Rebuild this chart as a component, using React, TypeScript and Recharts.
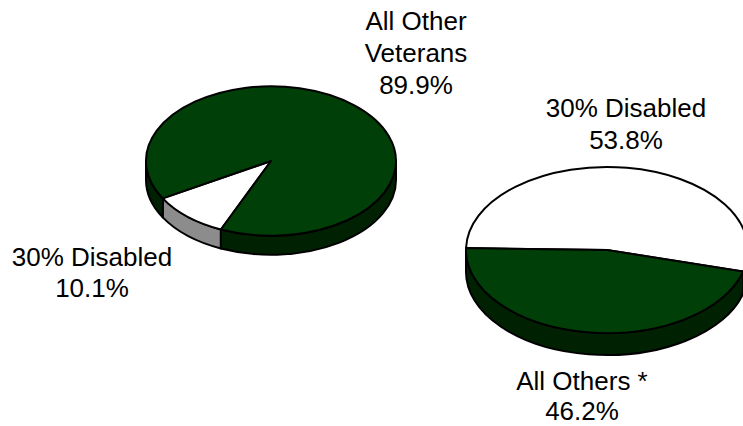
import React from 'react';
import { PieChart, Pie, Cell } from 'recharts';

const leftNames = ['30% Disabled', 'All Other Veterans'];
const leftValues = [10.1, 89.9];
const rightNames = ['30% Disabled', 'All Others *'];
const rightValues = [53.8, 46.2];

const leftData = leftNames.map((name, i) => ({ name, value: leftValues[i] }));
const rightData = rightNames.map((name, i) => ({ name, value: rightValues[i] }));

const GREEN = '#003f07';
const WHITE = '#ffffff';
const GREEN_SIDE = '#002203';
const GREY_SIDE = '#8c8c8c';

const RAD = Math.PI / 180;

// recharts only does round pies, so the sector shape squashes them and adds the rim
const tiltedSector = (ratio: number, depth: number, sides: string[]) => (props: any) => {
    const { cx, cy, outerRadius: r, startAngle, endAngle, fill, index } = props;
    const ry = r * ratio;
    const px = (a: number) => cx + r * Math.cos(a * RAD);
    const py = (a: number) => cy - ry * Math.sin(a * RAD);
    const large = Math.abs(endAngle - startAngle) > 180 ? 1 : 0;
    const top = `M${cx},${cy} L${px(startAngle)},${py(startAngle)} A${r},${ry} 0 ${large} 0 ${px(endAngle)},${py(endAngle)} Z`;

    // front part of the rim is where the angle falls in 180..360 (also 540..720)
    const rims: string[] = [];
    [180, 540].forEach((from) => {
        const a = Math.max(startAngle, from);
        const b = Math.min(endAngle, from + 180);
        if (b > a) {
            rims.push(
                `M${px(a)},${py(a)} A${r},${ry} 0 0 0 ${px(b)},${py(b)} L${px(b)},${py(b) + depth} A${r},${ry} 0 0 1 ${px(a)},${py(a) + depth} Z`
            );
        }
    });

    return (
        <g>
            {rims.map((d) => (
                <path key={d} d={d} fill={sides[index]} stroke="#000" strokeWidth={2} strokeLinejoin="round" />
            ))}
            <path d={top} fill={fill} stroke="#000" strokeWidth={2} strokeLinejoin="round" />
        </g>
    );
};

const labelStyle = {
    position: 'absolute' as const,
    fontFamily: '"Liberation Sans", Arial, sans-serif',
    fontSize: 26,
    lineHeight: '32px',
    color: '#000',
    textAlign: 'center' as const,
    whiteSpace: 'pre' as const,
    transform: 'translateX(-50%)',
};

export default function App() {
    return (
        <div style={{ position: 'absolute', left: 0, top: 0, width: 743, height: 426, overflow: 'hidden', background: '#fff' }}>
            <PieChart width={743} height={426} margin={{ top: 0, right: 0, bottom: 0, left: 0 }}>
                <Pie
                    data={leftData}
                    dataKey="value"
                    cx={271}
                    cy={161}
                    outerRadius={125}
                    startAngle={210}
                    endAngle={570}
                    stroke="none"
                    isAnimationActive={false}
                    shape={tiltedSector(0.598, 19, [GREY_SIDE, GREEN_SIDE])}
                >
                    <Cell fill={WHITE} />
                    <Cell fill={GREEN} />
                </Pie>
                <Pie
                    data={rightData}
                    dataKey="value"
                    cx={607}
                    cy={250}
                    outerRadius={141}
                    startAngle={-15}
                    endAngle={345}
                    stroke="none"
                    isAnimationActive={false}
                    shape={tiltedSector(0.589, 22, [GREY_SIDE, GREEN_SIDE])}
                >
                    <Cell fill={WHITE} />
                    <Cell fill={GREEN} />
                </Pie>
            </PieChart>
            <div style={{ ...labelStyle, left: 416, top: 5 }}>{'All Other\nVeterans\n89.9%'}</div>
            <div style={{ ...labelStyle, left: 626, top: 92 }}>{'30% Disabled\n53.8%'}</div>
            <div style={{ ...labelStyle, left: 92, top: 242, lineHeight: '31px' }}>{'30% Disabled\n10.1%'}</div>
            <div style={{ ...labelStyle, left: 582, top: 365 }}>All Others *</div>
            <div style={{ ...labelStyle, left: 582, top: 398, lineHeight: '26px' }}>46.2%</div>
        </div>
    );
}
